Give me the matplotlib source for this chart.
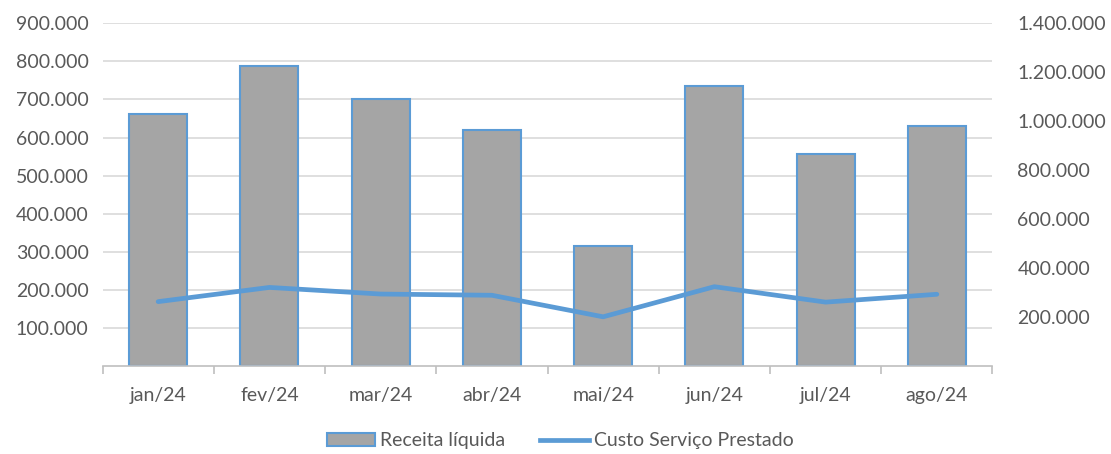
import matplotlib
matplotlib.use("Agg")
import matplotlib.pyplot as plt
from matplotlib.ticker import FuncFormatter, FixedLocator
from matplotlib.patches import Patch
from matplotlib.lines import Line2D

# ---------- Data ----------
months = ["jan/24", "fev/24", "mar/24", "abr/24", "mai/24", "jun/24", "jul/24", "ago/24"]
receita = [662000, 788000, 702000, 620000, 315000, 735000, 558000, 631000]
custo = [263000, 321000, 294000, 289000, 201000, 324000, 261000, 293000]

left_ticks = [100000, 200000, 300000, 400000, 500000, 600000, 700000, 800000, 900000]
right_ticks = [200000, 400000, 600000, 800000, 1000000, 1200000, 1400000]

BAR = "#A5A5A5"
BLUE = "#5B9BD5"
TXT = "#595959"
GRID = "#D9D9D9"
FS = 14


def br_fmt(v, pos=None):
    return f"{int(round(v)):,}".replace(",", ".")


plt.rcParams["font.family"] = ["Lato", "DejaVu Sans"]

fig = plt.figure(figsize=(11.11, 4.54), dpi=100)
ax = fig.add_axes([0.0923, 0.1938, 0.801, 0.7549])
ax2 = ax.twinx()

x = list(range(len(months)))
ax.bar(x, receita, width=0.52, color=BAR, edgecolor=BLUE, linewidth=1.5, zorder=2)
ax2.plot(x, custo, color=BLUE, linewidth=3.4, solid_capstyle="round", zorder=3)

ax.set_xlim(-0.5, len(months) - 0.5)
ax.set_ylim(0, 900000)
ax2.set_ylim(0, 1400000)

ax.yaxis.set_major_locator(FixedLocator(left_ticks))
ax2.yaxis.set_major_locator(FixedLocator(right_ticks))
ax.yaxis.set_major_formatter(FuncFormatter(br_fmt))
ax2.yaxis.set_major_formatter(FuncFormatter(br_fmt))

ax.grid(axis="y", color=GRID, linewidth=1.2, zorder=0)
ax.set_axisbelow(True)

for a in (ax, ax2):
    for s in ("top", "left", "right"):
        a.spines[s].set_visible(False)
ax2.spines["bottom"].set_visible(False)
ax.spines["bottom"].set_color("#BFBFBF")
ax.spines["bottom"].set_linewidth(1.2)

ax.set_xticks(x)
ax.set_xticklabels(months)
ax.tick_params(axis="x", which="major", length=0, pad=15, labelsize=FS, colors=TXT)
ax.set_xticks([i - 0.5 for i in range(len(months) + 1)], minor=True)
ax.tick_params(axis="x", which="minor", length=6, width=1.2, color="#BFBFBF", direction="out")

ax.tick_params(axis="y", length=0, pad=10, labelsize=FS, colors=TXT)
ax2.tick_params(axis="y", length=0, pad=18, labelsize=FS, colors=TXT)

handles = [
    Patch(facecolor=BAR, edgecolor=BLUE, linewidth=1.5),
    Line2D([0], [0], color=BLUE, linewidth=3.4),
]
leg = fig.legend(handles, ["Receita líquida", "Custo Serviço Prestado"],
                 loc="center", bbox_to_anchor=(0.504, 0.029), ncol=2, frameon=False,
                 fontsize=FS, handlelength=2.5, handletextpad=0.25, columnspacing=1.8)
for t in leg.get_texts():
    t.set_color(TXT)

fig.savefig("out.png", dpi=100)
